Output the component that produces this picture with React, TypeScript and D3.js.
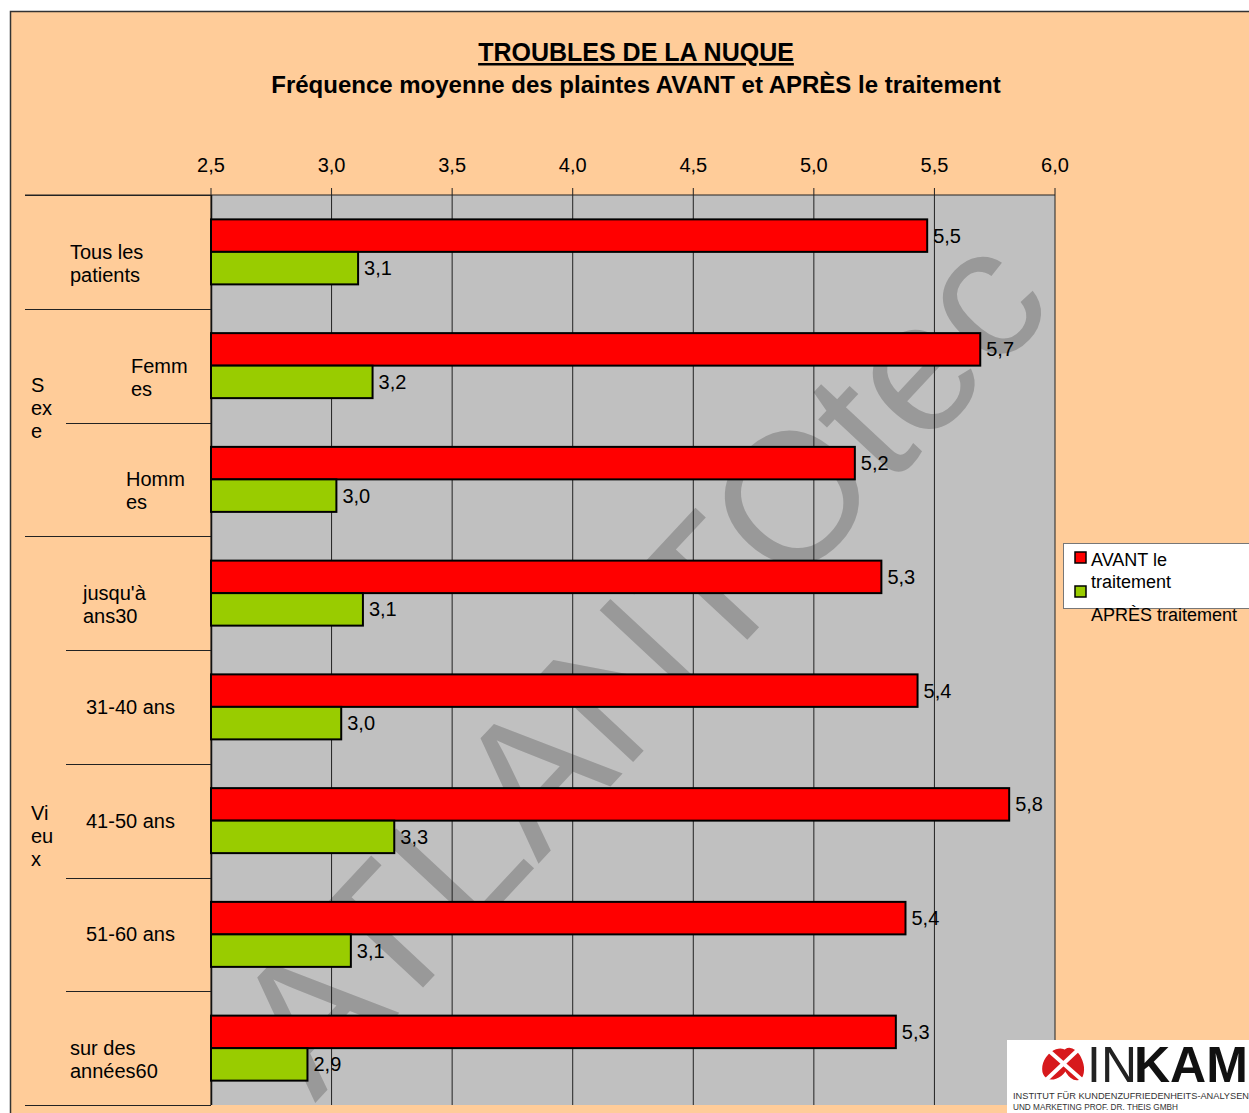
import * as d3 from "d3";
import React, { useRef, useEffect } from "react";

// chart data
const categories = [
  "Tous les patients",
  "Femmes",
  "Hommes",
  "jusqu'à ans30",
  "31-40 ans",
  "41-50 ans",
  "51-60 ans",
  "sur des années60",
];
const categoryLines = [
  ["Tous les", "patients"],
  ["Femm", "es"],
  ["Homm", "es"],
  ["jusqu'à", "ans30"],
  ["31-40 ans"],
  ["41-50 ans"],
  ["51-60 ans"],
  ["sur des", "années60"],
];
const groupLabels = [
  ["S", "ex", "e"],
  ["Vi", "eu", "x"],
];
const series = ["AVANT le traitement", "APRÈS traitement"];
const avant = [5.47, 5.69, 5.17, 5.28, 5.43, 5.81, 5.38, 5.34];
const apres = [3.11, 3.17, 3.02, 3.13, 3.04, 3.26, 3.08, 2.9];
const ticks = [2.5, 3.0, 3.5, 4.0, 4.5, 5.0, 5.5, 6.0];

// layout
const W = 1249,
  H = 1113;
const plot = { left: 211, right: 1055, top: 195, bottom: 1105 };
const labelLeft = [70, 131, 126, 83, 86, 86, 86, 70];
const sepStart = [25, 25, 66, 25, 66, 66, 66, 66, 25];
const groupLabelY = [392, 820];
const colors = ["#FF0000", "#99CC00"];
const font = "Arial, 'Liberation Sans', sans-serif";
const fmt = (v) => v.toFixed(1).replace(".", ",");

function Chart() {
  const ref = useRef();

  useEffect(() => {
    const svg = d3.select(ref.current);
    svg.selectAll("*").remove();
    svg.style("font-family", font);

    // background frame
    svg.append("rect").attr("width", W).attr("height", H).attr("fill", "#fff");
    svg
      .append("rect")
      .attr("x", 10.5)
      .attr("y", 11.5)
      .attr("width", W + 20)
      .attr("height", H + 20)
      .attr("fill", "#FFCC99")
      .attr("stroke", "#333")
      .attr("stroke-width", 1.5);

    // titles
    svg
      .append("text")
      .attr("x", 636)
      .attr("y", 61)
      .attr("text-anchor", "middle")
      .attr("font-size", 25)
      .attr("font-weight", "bold")
      .attr("text-decoration", "underline")
      .text("TROUBLES DE LA NUQUE");
    svg
      .append("text")
      .attr("x", 636)
      .attr("y", 93)
      .attr("text-anchor", "middle")
      .attr("font-size", 24)
      .attr("font-weight", "bold")
      .text("Fréquence moyenne des plaintes AVANT et APRÈS le traitement");

    var x = d3.scaleLinear().domain([2.5, 6]).range([plot.left, plot.right]);
    var y = d3
      .scaleBand()
      .domain(categories)
      .range([plot.top, plot.bottom])
      .padding(0);
    var ySub = d3
      .scaleBand()
      .domain(series)
      .range([0, y.bandwidth()])
      .paddingInner(0)
      .paddingOuter(0.75);

    // plot area
    svg
      .append("rect")
      .attr("x", plot.left)
      .attr("y", plot.top)
      .attr("width", plot.right - plot.left)
      .attr("height", plot.bottom - plot.top)
      .attr("fill", "#C0C0C0");

    // watermark
    svg
      .append("clipPath")
      .attr("id", "plotclip")
      .append("rect")
      .attr("x", plot.left)
      .attr("y", plot.top)
      .attr("width", plot.right - plot.left)
      .attr("height", plot.bottom - plot.top);
    svg
      .append("g")
      .attr("clip-path", "url(#plotclip)")
      .append("text")
      .attr("transform", "translate(640,662) rotate(-47)")
      .attr("text-anchor", "middle")
      .attr("dy", "0.34em")
      .attr("font-size", 186)
      .attr("fill", "#999999")
      .text("ATLANTOtec");

    // gridlines
    svg
      .append("g")
      .selectAll("line")
      .data(ticks)
      .enter()
      .append("line")
      .attr("x1", (d) => x(d))
      .attr("x2", (d) => x(d))
      .attr("y1", plot.top - 7)
      .attr("y2", plot.bottom)
      .attr("stroke", "#222")
      .attr("stroke-width", 1);

    // top axis line
    svg
      .append("line")
      .attr("x1", 25)
      .attr("x2", plot.right)
      .attr("y1", plot.top)
      .attr("y2", plot.top)
      .attr("stroke", "#222");

    svg
      .append("g")
      .selectAll("text")
      .data(ticks)
      .enter()
      .append("text")
      .attr("x", (d) => x(d))
      .attr("y", 172)
      .attr("text-anchor", "middle")
      .attr("font-size", 20)
      .text((d) => fmt(d));

    // category separators
    const bounds = categories.map((c) => y(c)).concat([plot.bottom]);
    svg
      .append("g")
      .selectAll("line")
      .data(bounds)
      .enter()
      .append("line")
      .attr("x1", (d, i) => sepStart[i])
      .attr("x2", plot.left)
      .attr("y1", (d) => Math.round(d) + 0.5)
      .attr("y2", (d) => Math.round(d) + 0.5)
      .attr("stroke", "#222");
    svg
      .append("line")
      .attr("x1", plot.left + 0.5)
      .attr("x2", plot.left + 0.5)
      .attr("y1", plot.top)
      .attr("y2", plot.bottom)
      .attr("stroke", "#111")
      .attr("stroke-width", 1.5);

    // category labels
    categories.forEach((c, i) => {
      const cy = y(c) + y.bandwidth() / 2;
      const t = svg
        .append("text")
        .attr("font-size", 20)
        .attr("x", labelLeft[i])
        .attr("y", cy + 7);
      categoryLines[i].forEach((l, j) => {
        t.append("tspan")
          .attr("x", labelLeft[i])
          .attr("dy", j === 0 ? 0 : 23)
          .text(l);
      });
    });
    groupLabels.forEach((g, i) => {
      g.forEach((l, j) => {
        svg
          .append("text")
          .attr("x", 31)
          .attr("y", groupLabelY[i] + j * 23)
          .attr("font-size", 20)
          .text(l);
      });
    });

    // bars
    const vals = [avant, apres];
    series.forEach((s, si) => {
      svg
        .append("g")
        .selectAll("rect")
        .data(vals[si])
        .enter()
        .append("rect")
        .attr("x", x(2.5))
        .attr("y", (d, i) => y(categories[i]) + ySub(s))
        .attr("width", (d) => x(d) - x(2.5))
        .attr("height", ySub.bandwidth())
        .attr("fill", colors[si])
        .attr("stroke", "#000")
        .attr("stroke-width", 2);
      svg
        .append("g")
        .selectAll("text")
        .data(vals[si])
        .enter()
        .append("text")
        .attr("x", (d) => x(d) + 6)
        .attr("y", (d, i) => y(categories[i]) + ySub(s) + ySub.bandwidth() / 2 + 7)
        .attr("font-size", 20)
        .text((d) => fmt(d));
    });

    // legend
    const lg = svg.append("g");
    lg.append("rect")
      .attr("x", 1063.5)
      .attr("y", 543.5)
      .attr("width", 200)
      .attr("height", 65)
      .attr("fill", "#fff")
      .attr("stroke", "#777");
    [552, 586].forEach((ly, i) => {
      lg.append("rect")
        .attr("x", 1075)
        .attr("y", ly)
        .attr("width", 11)
        .attr("height", 11)
        .attr("fill", colors[i])
        .attr("stroke", "#000")
        .attr("stroke-width", 1.5);
    });
    [
      ["AVANT le", 566],
      ["traitement", 588],
      ["APRÈS traitement", 621],
    ].forEach(([t, ly]) => {
      lg.append("text")
        .attr("x", 1091)
        .attr("y", ly)
        .attr("font-size", 18)
        .text(t);
    });

    // logo
    const lo = svg.append("g");
    lo.append("rect")
      .attr("x", 1007)
      .attr("y", 1040)
      .attr("width", 250)
      .attr("height", 80)
      .attr("fill", "#fff");
    lo.append("ellipse")
      .attr("cx", 1056)
      .attr("cy", 1064)
      .attr("rx", 12)
      .attr("ry", 17)
      .attr("transform", "rotate(35,1056,1064)")
      .attr("fill", "#D7191C");
    lo.append("ellipse")
      .attr("cx", 1073)
      .attr("cy", 1064)
      .attr("rx", 10)
      .attr("ry", 17)
      .attr("transform", "rotate(-20,1073,1064)")
      .attr("fill", "#D7191C");
    lo.append("path")
      .attr("d", "M1048,1050 L1082,1080 M1046,1080 L1080,1048")
      .attr("stroke", "#fff")
      .attr("stroke-width", 4);
    lo.append("text")
      .attr("x", 1087)
      .attr("y", 1082)
      .attr("font-size", 50)
      .attr("font-weight", "normal")
      .attr("fill", "#222")
      .text("IN");
    lo.append("text")
      .attr("x", 1134)
      .attr("y", 1082)
      .attr("font-size", 50)
      .attr("font-weight", "bold")
      .attr("fill", "#111")
      .text("KAM");
    lo.append("text")
      .attr("x", 1013)
      .attr("y", 1099)
      .attr("font-size", 9)
      .attr("textLength", 236)
      .attr("lengthAdjust", "spacingAndGlyphs")
      .attr("fill", "#333")
      .text("INSTITUT FÜR KUNDENZUFRIEDENHEITS-ANALYSEN");
    lo.append("text")
      .attr("x", 1013)
      .attr("y", 1110)
      .attr("font-size", 9)
      .attr("textLength", 165)
      .attr("lengthAdjust", "spacingAndGlyphs")
      .attr("fill", "#333")
      .text("UND MARKETING PROF. DR. THEIS GMBH");
  }, []);

  return <svg ref={ref} width={W} height={H} style={{ display: "block" }}></svg>;
}

export default function App() {
  return (
    <div style={{ position: "absolute", left: 0, top: 0 }}>
      <Chart />
    </div>
  );
}
